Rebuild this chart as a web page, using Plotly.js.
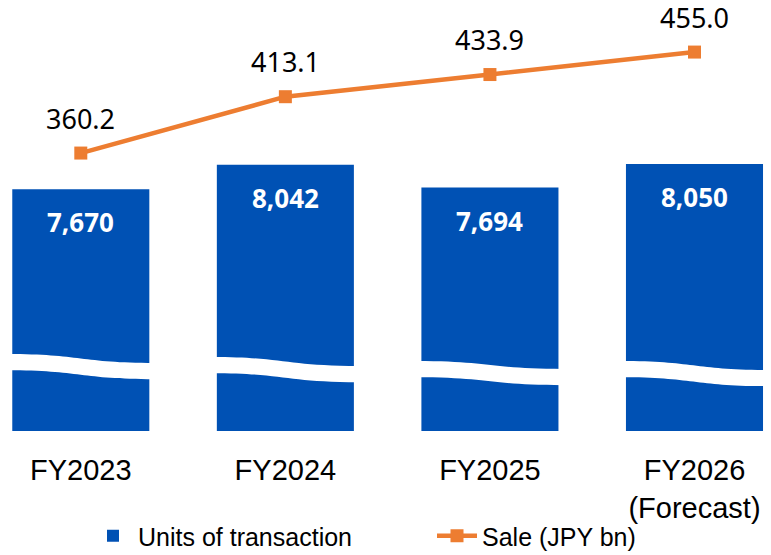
<!DOCTYPE html>
<html><head><meta charset="utf-8">
<script src="https://cdn.plot.ly/plotly-3.0.1.min.js"></script>
<style>html,body{margin:0;padding:0;background:#fff}#chart{width:771px;height:555px}</style>
</head><body><div id="chart"></div>
<script>
// ---- data ----
const categories = ["FY2023", "FY2024", "FY2025", "FY2026<br>(Forecast)"];
const units = [7670, 8042, 7694, 8050];
const sales = [360.2, 413.1, 433.9, 455.0];
const unitLabels = ["7,670", "8,042", "7,694", "8,050"];
const saleLabels = ["360.2", "413.1", "433.9", "455.0"];

// ---- decoration: axis-break wave per bar (units-axis values of its upper edge) ----
const waveLeft = [5168, 5123, 5062, 5062];
const waveRight = [5032, 4986, 4941, 4926];
const waveThick = 245;

const BLUE = '#0051B4', ORANGE = '#ED7D31';
const xs = categories.map((_, i) => i);
const barW = 0.67;

const traces = [
  {type: 'bar', x: xs, y: units, width: barW, name: 'Units of transaction',
   marker: {color: BLUE}, hoverinfo: 'skip'},
  {type: 'scatter', mode: 'lines+markers', x: xs, y: sales, yaxis: 'y2', name: 'Sale (JPY bn)',
   line: {color: ORANGE, width: 4.5}, marker: {symbol: 'square', size: 13, color: ORANGE}, hoverinfo: 'skip'}
];

const shapes = xs.map((c, i) => {
  const x0 = c - 0.36, x1 = c + 0.36, m = (x0 + x1) / 2;
  const yL = waveLeft[i], yR = waveRight[i], t = waveThick;
  return {type: 'path', xref: 'x', yref: 'y', layer: 'above', fillcolor: '#ffffff', line: {width: 0},
    path: `M${x0},${yL} C${m},${yL} ${m},${yR} ${x1},${yR} L${x1},${yR - t} C${m},${yR - t} ${m},${yL - t} ${x0},${yL - t} Z`};
});

const annotations = [];
xs.forEach((c, i) => {
  annotations.push({x: c, y: units[i], xref: 'x', yref: 'y', text: unitLabels[i], showarrow: false,
    yanchor: 'middle', yshift: -33, font: {family: 'Noto Sans', size: 26, color: '#ffffff', weight: 'bold'}});
  annotations.push({x: c, y: sales[i], xref: 'x', yref: 'y2', text: saleLabels[i], showarrow: false,
    yanchor: 'middle', yshift: 35, font: {family: 'Noto Sans', size: 27, color: '#000000'}});
});

const layout = {
  width: 771, height: 555,
  margin: {l: 0, r: 0, t: 20, b: 124},
  paper_bgcolor: '#ffffff', plot_bgcolor: '#ffffff',
  showlegend: true,
  xaxis: {range: [-0.395, 3.374], tickvals: xs, ticktext: categories, showgrid: false, zeroline: false,
    showline: false, ticks: '', ticklabelstandoff: 19,
    tickfont: {family: 'Liberation Sans, Arial', size: 29, color: '#000000'}},
  yaxis: {range: [4000, 10237], visible: false},
  yaxis2: {range: [99.3, 485.1], overlaying: 'y', visible: false},
  legend: {orientation: 'h', xref: 'container', yref: 'container', x: 88 / 771, y: 19 / 555,
    xanchor: 'left', yanchor: 'middle', font: {family: 'Liberation Sans, Arial', size: 25, color: '#000000'},
    entrywidth: 289, itemwidth: 40, bgcolor: 'rgba(0,0,0,0)'},
  shapes: shapes,
  annotations: annotations
};

Plotly.newPlot('chart', traces, layout, {displayModeBar: false, staticPlot: true});
</script>
</body></html>
